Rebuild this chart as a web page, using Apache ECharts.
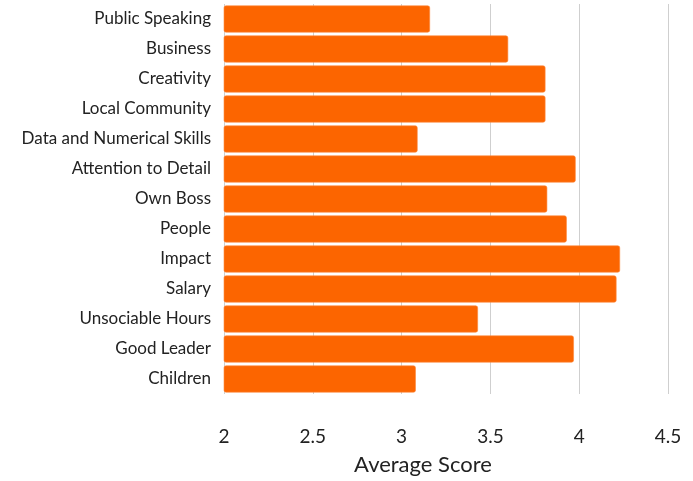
<!DOCTYPE html>
<html>
<head>
<meta charset="utf-8">
<script src="https://cdn.jsdelivr.net/npm/echarts@6/dist/echarts.min.js"></script>
<style>
  html, body { margin: 0; padding: 0; background: #fff; }
  #chart { width: 693px; height: 481px; }
</style>
</head>
<body>
<div id="chart"></div>
<script>
// categories top to bottom, as in the picture
var categories = ['Public Speaking', 'Business', 'Creativity', 'Local Community',
  'Data and Numerical Skills', 'Attention to Detail', 'Own Boss', 'People',
  'Impact', 'Salary', 'Unsociable Hours', 'Good Leader', 'Children'];
var scores = [3.16, 3.60, 3.81, 3.81, 3.09, 3.98, 3.82, 3.93, 4.23, 4.21, 3.43, 3.97, 3.08];
var xTicks = [2, 2.5, 3, 3.5, 4, 4.5];

var myChart = echarts.init(document.getElementById('chart'));

var option = {
  animation: false,
  textStyle: { fontFamily: 'Lato' },
  grid: { left: 224, right: 25, top: 4, bottom: 87, containLabel: false },
  xAxis: {
    type: 'value',
    min: xTicks[0],
    max: xTicks[xTicks.length - 1],
    interval: 0.5,
    name: 'Average Score',
    nameLocation: 'middle',
    nameGap: 60,
    nameTextStyle: { fontSize: 22, color: '#222', padding: [0, 46, 0, 0] },
    axisLine: { show: false },
    axisTick: { show: false },
    axisLabel: { margin: 33, fontSize: 19, color: '#222' },
    splitLine: { show: true, lineStyle: { color: '#cfcfcf', width: 1 } }
  },
  yAxis: {
    type: 'category',
    data: categories,
    inverse: true,
    axisLine: { show: false },
    axisTick: { show: false },
    axisLabel: { margin: 13, fontSize: 17, color: '#222' }
  },
  series: [{
    type: 'bar',
    data: scores,
    barCategoryGap: '10%',
    itemStyle: {
      color: '#fc6500',
      borderColor: '#fd8a3c',
      borderWidth: 0.6,
      borderRadius: 2
    }
  }]
};

myChart.setOption(option);
</script>
</body>
</html>
